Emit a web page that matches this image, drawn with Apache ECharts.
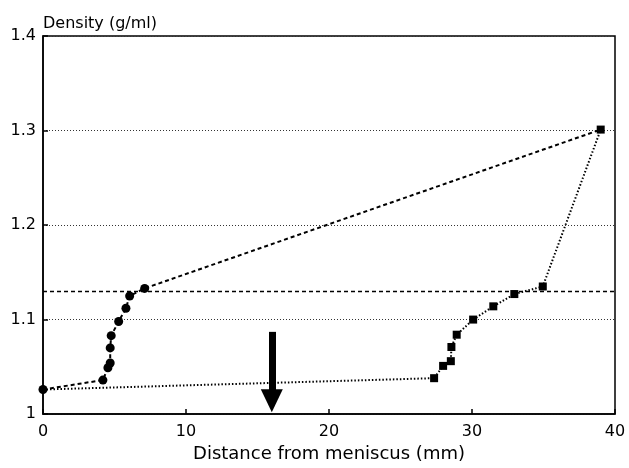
<!DOCTYPE html>
<html>
<head>
<meta charset="UTF-8"/>
<script src="https://cdn.jsdelivr.net/npm/echarts@6.0.0/dist/echarts.min.js"></script>
<style>
  html, body { margin: 0; padding: 0; background: #fff; }
  #chart { width: 629px; height: 468px; }
</style>
</head>
<body>
<div id="chart"></div>
<script>
// circles (dashed curve), the last point only carries the line to the top square
const circleX = [0, 4.19, 4.54, 4.70, 4.70, 4.77, 5.29, 5.80, 6.06, 7.11, 39.0];
const circleY = [1.026, 1.036, 1.049, 1.054, 1.070, 1.083, 1.098, 1.112, 1.125, 1.133, 1.301];
// squares (dotted curve), the first point is the shared start at the meniscus
const squareX = [0, 27.35, 27.98, 28.52, 28.56, 28.93, 30.08, 31.49, 32.96, 34.95, 39.0];
const squareY = [1.026, 1.038, 1.051, 1.056, 1.071, 1.084, 1.100, 1.114, 1.127, 1.135, 1.301];
const plateauY = 1.132;
const arrowX = 16.0;
const arrowY = [1.087, 1.014];
const xTicks = [0, 10, 20, 30, 40];
const yTicks = [1, 1.1, 1.2, 1.3, 1.4];

const font = 'DejaVu Sans, sans-serif';
const chart = echarts.init(document.getElementById('chart'), null, { renderer: 'canvas' });

const circleData = circleX.map((x, i) => {
  const last = i === circleX.length - 1;
  return last ? { value: [x, circleY[i]], symbolSize: 0 } : [x, circleY[i]];
});
const squareData = squareX.map((x, i) => {
  return i === 0 ? { value: [x, squareY[i]], symbolSize: 0 } : [x, squareY[i]];
});

chart.setOption({
  animation: false,
  backgroundColor: '#fff',
  grid: { left: 43, right: 14, top: 36, bottom: 49, show: true, borderColor: '#000', borderWidth: 1.5 },
  xAxis: {
    type: 'value', min: xTicks[0], max: xTicks[xTicks.length - 1], interval: 10,
    name: 'Distance from meniscus (mm)', nameLocation: 'middle', nameGap: 28,
    nameTextStyle: { color: '#000', fontSize: 18, fontFamily: font },
    axisLine: { lineStyle: { color: '#000', width: 1.5 } },
    axisTick: { inside: true, length: 5, lineStyle: { color: '#000', width: 1.5 } },
    axisLabel: { color: '#000', fontSize: 16, fontFamily: font, margin: 10 },
    splitLine: { show: false }
  },
  yAxis: {
    type: 'value', min: yTicks[0], max: yTicks[yTicks.length - 1], interval: 0.1,
    name: 'Density (g/ml)', nameLocation: 'end', nameGap: 4,
    nameTextStyle: { color: '#000', fontSize: 16, fontFamily: font, align: 'left', verticalAlign: 'bottom' },
    axisLine: { lineStyle: { color: '#000', width: 1.5 } },
    axisTick: { inside: true, length: 5, lineStyle: { color: '#000', width: 1.5 } },
    axisLabel: {
      color: '#000', fontSize: 16, fontFamily: font, margin: 7,
      formatter: v => (Math.abs(v - 1) < 1e-9 ? '1' : v.toFixed(1))
    },
    splitLine: { show: true, lineStyle: { color: '#333', width: 1, type: [1, 2] } }
  },
  series: [
    {
      type: 'line', data: circleData, symbol: 'circle', symbolSize: 9,
      itemStyle: { color: '#000' },
      lineStyle: { color: '#000', width: 2, type: [4, 3] },
      markLine: {
        silent: true, symbol: ['none', 'none'], label: { show: false },
        lineStyle: { color: '#000', width: 1.4, type: [4, 3] },
        data: [{ yAxis: plateauY }]
      },
      z: 3
    },
    {
      type: 'line', data: squareData, symbol: 'rect', symbolSize: 8,
      itemStyle: { color: '#000' },
      lineStyle: { color: '#000', width: 2, type: [1.5, 2] },
      markLine: {
        silent: true, symbol: ['none', 'triangle'], symbolSize: [22, 23], label: { show: false },
        lineStyle: { color: '#000', width: 7, type: 'solid' },
        data: [[{ coord: [arrowX, arrowY[0]] }, { coord: [arrowX, arrowY[1]] }]]
      },
      z: 3
    }
  ]
});
</script>
</body>
</html>
